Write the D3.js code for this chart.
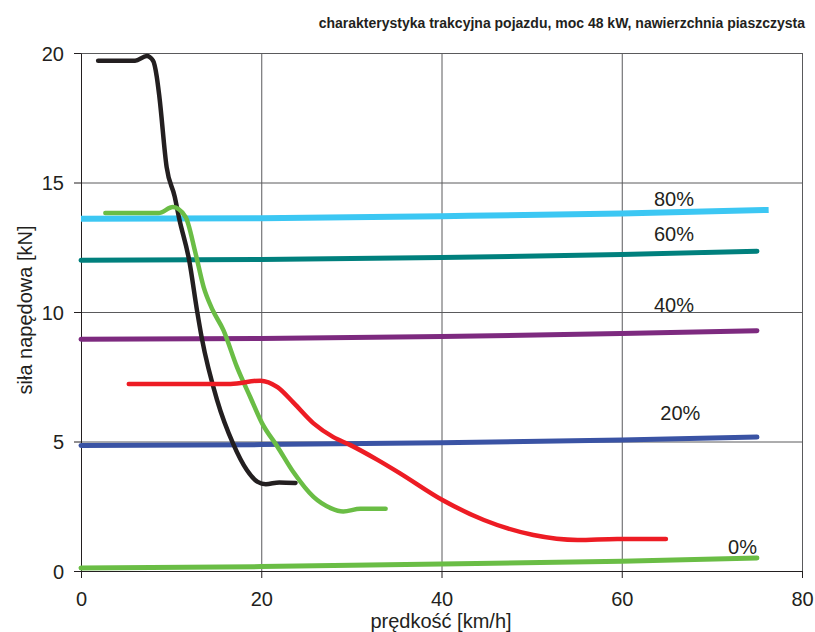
<!DOCTYPE html>
<html>
<head>
<meta charset="utf-8">
<script src="https://cdn.jsdelivr.net/npm/d3@7"></script>
<style>
  body { margin: 0; background: #fff; }
  text { font-family: "Liberation Sans", Arial, sans-serif; fill: #231f20; }
</style>
</head>
<body>
<svg id="chart" width="815" height="632"></svg>
<script>
// tick labels
const xTicks = [0, 20, 40, 60, 80];
const yTicks = [0, 5, 10, 15, 20];

// gear lines (x in km/h, y in kN)
const gearX = [0, 20, 40, 60, 75];
const gear80X = [0, 20, 40, 60, 76.3];
const gear0 = [0.12, 0.17, 0.27, 0.38, 0.5];
const gear20 = [4.85, 4.88, 4.95, 5.06, 5.17];
const gear40 = [8.95, 8.98, 9.05, 9.17, 9.28];
const gear60 = [12.0, 12.03, 12.1, 12.22, 12.35];
const gear80 = [13.6, 13.62, 13.7, 13.8, 13.94];
const gearNames = ['0%', '20%', '40%', '60%', '80%'];

// traction curves
const blackX = [1.9, 6.0, 7.3, 8.0, 8.4, 8.7, 9.5, 10.4, 10.9, 12.0, 12.9, 13.4, 15.1, 16.9, 18.4, 19.6, 20.5, 22, 23.8];
const blackY = [19.7, 19.7, 19.88, 19.7, 19.1, 18.3, 15.6, 14.45, 13.6, 12.0, 10.0, 9.0, 6.6, 4.9, 3.9, 3.44, 3.35, 3.42, 3.4];
const greenX = [2.7, 8.6, 10.2, 11.6, 12.7, 13.6, 14.6, 15.8, 17.3, 18.8, 20.1, 21.8, 23.6, 25.8, 27.7, 29.1, 31, 33.8];
const greenY = [13.82, 13.82, 14.05, 13.67, 12.28, 10.97, 10.08, 9.3, 7.88, 6.7, 5.7, 4.8, 3.8, 2.86, 2.43, 2.3, 2.4, 2.4];
const redX = [5.3, 16.6, 19.9, 21.8, 23.6, 25.8, 28, 29.9, 32.9, 35.4, 40.1, 44.7, 50.2, 55.1, 59.5, 64.9];
const redY = [7.22, 7.22, 7.35, 7.1, 6.49, 5.7, 5.17, 4.86, 4.29, 3.77, 2.74, 1.97, 1.39, 1.2, 1.24, 1.24];

const svg = d3.select('#chart');

const plotLeft = 81, plotRight = 802, plotTop = 53, plotBottom = 571;
const x = d3.scaleLinear().domain([0, 80]).range([plotLeft, plotRight]);
const y = d3.scaleLinear().domain([0, 20]).range([plotBottom, plotTop]);

// grid
svg.append('g')
  .attr('transform', `translate(0,${plotBottom})`)
  .call(d3.axisBottom(x).tickValues(xTicks.slice(1)).tickSize(-(plotBottom - plotTop)).tickFormat(''))
  .call(g => g.select('.domain').remove())
  .call(g => g.selectAll('line').attr('stroke', '#5a5a5c').attr('stroke-width', 1));

svg.append('g')
  .attr('transform', `translate(${plotLeft},0)`)
  .call(d3.axisLeft(y).tickValues(yTicks.slice(1)).tickSize(-(plotRight - plotLeft)).tickFormat(''))
  .call(g => g.select('.domain').remove())
  .call(g => g.selectAll('line').attr('stroke', '#5a5a5c').attr('stroke-width', 1));

// axes
const xAxis = svg.append('g')
  .attr('transform', `translate(0,${plotBottom})`)
  .call(d3.axisBottom(x).tickValues(xTicks).tickSizeInner(7).tickSizeOuter(0).tickPadding(14));
const yAxis = svg.append('g')
  .attr('transform', `translate(${plotLeft},0)`)
  .call(d3.axisLeft(y).tickValues(yTicks).tickSizeInner(7).tickSizeOuter(0).tickPadding(10));

[xAxis, yAxis].forEach(a => {
  a.select('.domain').attr('stroke', '#231f20');
  a.selectAll('line').attr('stroke', '#231f20');
  a.selectAll('text')
    .attr('font-family', '"Liberation Sans", Arial, sans-serif')
    .attr('font-size', 20)
    .attr('fill', '#231f20');
});
yAxis.selectAll('text').attr('dy', '0.35em');

// line generator
const line = d3.line()
  .x(d => x(d[0]))
  .y(d => y(d[1]))
  .curve(d3.curveMonotoneX);

function drawSeries(xs, ys, color, width, cap) {
  svg.append('path')
    .datum(xs.map((v, i) => [v, ys[i]]))
    .attr('fill', 'none')
    .attr('stroke', color)
    .attr('stroke-width', width)
    .attr('stroke-linecap', cap || 'round')
    .attr('stroke-linejoin', 'round')
    .attr('d', line);
}

drawSeries(gearX, gear0, '#6abd45', 5);
drawSeries(gearX, gear20, '#3a53a4', 5);
drawSeries(gearX, gear40, '#7d2a7f', 5);
drawSeries(gearX, gear60, '#00807d', 5);
drawSeries(gear80X, gear80, '#3cc7f3', 6, 'butt');

drawSeries(blackX, blackY, '#231f20', 4.5);
drawSeries(greenX, greenY, '#6abd45', 4.5);
drawSeries(redX, redY, '#ed1c24', 4.5);

// gear labels (data coords)
const labelPos = [[73.4, 0.93], [66.5, 6.1], [65.8, 10.27], [65.8, 13.0], [65.8, 14.36]];
svg.append('g').selectAll('text')
  .data(gearNames)
  .join('text')
  .attr('x', (d, i) => x(labelPos[i][0]))
  .attr('y', (d, i) => y(labelPos[i][1]))
  .attr('dy', '0.35em')
  .attr('text-anchor', 'middle')
  .attr('font-size', 20)
  .text(d => d);

// title
svg.append('text')
  .attr('x', 805)
  .attr('y', 28)
  .attr('text-anchor', 'end')
  .attr('font-size', 14)
  .attr('font-weight', 'bold')
  .text('charakterystyka trakcyjna pojazdu, moc 48 kW, nawierzchnia piaszczysta');

// axis titles
svg.append('text')
  .attr('x', 441)
  .attr('y', 628)
  .attr('text-anchor', 'middle')
  .attr('font-size', 20)
  .text('prędkość [km/h]');

svg.append('text')
  .attr('transform', 'translate(32,310) rotate(-90)')
  .attr('text-anchor', 'middle')
  .attr('font-size', 20)
  .text('siła napędowa [kN]');
</script>
</body>
</html>
